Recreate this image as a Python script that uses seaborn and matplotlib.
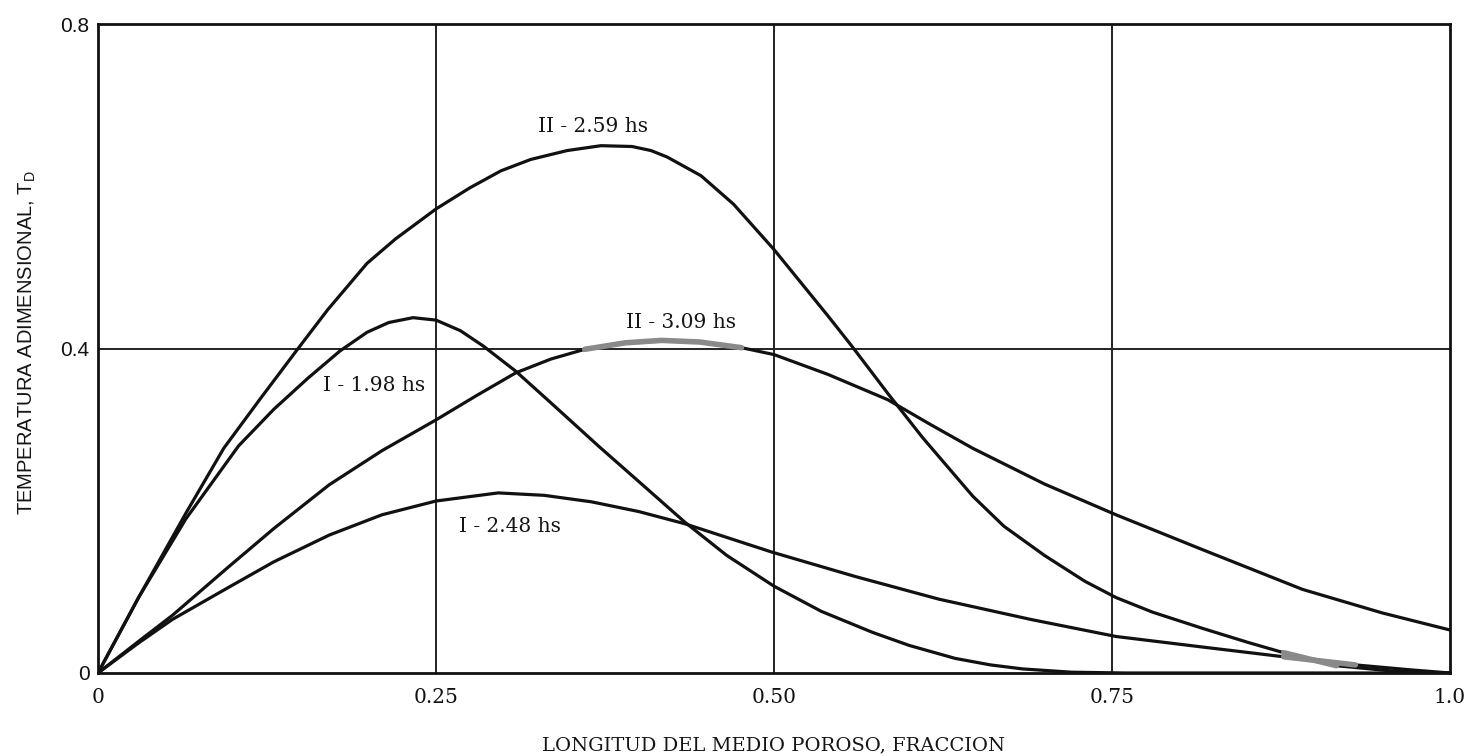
import numpy as np
import pandas as pd
import matplotlib
matplotlib.use("Agg")
import matplotlib.pyplot as plt
import seaborn as sns

# ---- data ----
x_259 = [0, 0.03, 0.065, 0.093, 0.12, 0.148, 0.17, 0.199, 0.22, 0.25, 0.275, 0.298, 0.32, 0.347, 0.372,
         0.395, 0.409, 0.421, 0.446, 0.47, 0.50, 0.52, 0.54, 0.558, 0.584, 0.61, 0.647, 0.67, 0.70, 0.73,
         0.753, 0.78, 0.817, 0.85, 0.877, 0.916, 0.96, 1.0]
y_259 = [0, 0.093, 0.197, 0.277, 0.338, 0.40, 0.448, 0.505, 0.535, 0.572, 0.598, 0.619, 0.633, 0.644, 0.650,
         0.649, 0.644, 0.636, 0.613, 0.578, 0.522, 0.481, 0.44, 0.402, 0.345, 0.29, 0.218, 0.181, 0.145, 0.113,
         0.093, 0.075, 0.055, 0.038, 0.025, 0.009, 0.002, 0]

x_198 = [0, 0.03, 0.065, 0.104, 0.13, 0.155, 0.179, 0.199, 0.215, 0.233, 0.25, 0.268, 0.285, 0.309, 0.335,
         0.37, 0.40, 0.434, 0.465, 0.50, 0.535, 0.573, 0.60, 0.634, 0.66, 0.684, 0.72, 0.76, 1.0]
y_198 = [0, 0.093, 0.19, 0.28, 0.325, 0.363, 0.397, 0.42, 0.432, 0.438, 0.435, 0.422, 0.403, 0.372, 0.333,
         0.28, 0.236, 0.186, 0.145, 0.107, 0.076, 0.050, 0.034, 0.018, 0.010, 0.005, 0.001, 0, 0]

x_309 = [0, 0.03, 0.055, 0.096, 0.13, 0.171, 0.21, 0.25, 0.28, 0.309, 0.335, 0.36, 0.39, 0.417, 0.445,
         0.476, 0.50, 0.54, 0.584, 0.615, 0.647, 0.70, 0.753, 0.817, 0.891, 0.95, 1.0]
y_309 = [0, 0.039, 0.071, 0.13, 0.178, 0.232, 0.274, 0.312, 0.342, 0.370, 0.387, 0.399, 0.407, 0.41, 0.408,
         0.401, 0.3925, 0.368, 0.337, 0.307, 0.277, 0.233, 0.195, 0.152, 0.103, 0.074, 0.053]

x_248 = [0, 0.03, 0.055, 0.096, 0.13, 0.171, 0.21, 0.25, 0.296, 0.33, 0.365, 0.40, 0.434, 0.4985,
         0.56, 0.622, 0.69, 0.753, 0.817, 0.877, 0.93, 0.97, 1.0]
y_248 = [0, 0.037, 0.066, 0.105, 0.137, 0.170, 0.195, 0.212, 0.222, 0.219, 0.211, 0.199, 0.184, 0.149,
         0.119, 0.091, 0.066, 0.045, 0.032, 0.020, 0.010, 0.004, 0.0]

labels = ["II - 2.59 hs", "I - 1.98 hs", "II - 3.09 hs", "I - 2.48 hs"]
label_pos = [(0.366, 0.674), (0.204, 0.355), (0.431, 0.432), (0.305, 0.180)]

x_ticks = [0, 0.25, 0.50, 0.75, 1.0]
x_ticklabels = ["0", "0.25", "0.50", "0.75", "1.0"]
y_ticks = [0, 0.4, 0.8]
y_ticklabels = ["0", "0.4", "0.8"]

series = [(x_259, y_259), (x_198, y_198), (x_309, y_309), (x_248, y_248)]

sns.set_theme(style="white")
plt.rcParams["font.family"] = ["DejaVu Serif"]

fig = plt.figure(figsize=(14.65, 7.56), dpi=100)
ax = fig.add_axes([98 / 1465, 1 - 673 / 756, (1450 - 98) / 1465, (673 - 24) / 756])

for (xs, ys), lab in zip(series, labels):
    df = pd.DataFrame({"x": xs, "y": ys})
    sns.lineplot(data=df, x="x", y="y", ax=ax, color="#111111", lw=2.3,
                 sort=False, estimator=None, zorder=3)

# greyish worn segments as in the scanned figure
df309 = pd.DataFrame({"x": x_309, "y": y_309})
seg = df309[(df309.x >= 0.36) & (df309.x <= 0.476)]
sns.lineplot(data=seg, x="x", y="y", ax=ax, color="#8a8a8a", lw=4.0, sort=False,
             estimator=None, zorder=4)
df248 = pd.DataFrame({"x": x_248, "y": y_248})
seg2 = df248[(df248.x >= 0.877) & (df248.x <= 0.93)]
sns.lineplot(data=seg2, x="x", y="y", ax=ax, color="#8a8a8a", lw=4.0, sort=False,
             estimator=None, zorder=4)
df259 = pd.DataFrame({"x": x_259, "y": y_259})
seg3 = df259[(df259.x >= 0.877) & (df259.x <= 0.916)]
sns.lineplot(data=seg3, x="x", y="y", ax=ax, color="#8a8a8a", lw=4.0, sort=False,
             estimator=None, zorder=4)

for lab, (lx, ly) in zip(labels, label_pos):
    ax.text(lx, ly, lab, ha="center", va="center", fontsize=14.5,
            fontfamily="DejaVu Serif", color="#151515", zorder=5)

ax.set_xlim(0, 1.0)
ax.set_ylim(0, 0.8)
ax.set_xticks(x_ticks)
ax.set_xticklabels(x_ticklabels, fontsize=14.5, fontfamily="DejaVu Serif")
ax.set_yticks(y_ticks)
ax.set_yticklabels(y_ticklabels)
for t in ax.get_yticklabels():
    t.set_fontfamily("Liberation Sans")
    t.set_fontsize(15)
ax.tick_params(axis="x", length=0, pad=11, colors="#111111")
ax.tick_params(axis="y", length=0, pad=6, colors="#111111")

for xv in x_ticks[1:-1]:
    ax.axvline(xv, color="#222222", lw=1.4, zorder=1)
ax.axhline(0.4, color="#222222", lw=1.4, zorder=1)

for sp in ax.spines.values():
    sp.set_visible(True)
    sp.set_color("#111111")
    sp.set_linewidth(2.0)

ax.set_xlabel("LONGITUD DEL MEDIO POROSO, FRACCION", fontsize=14,
              fontfamily="DejaVu Serif", color="#151515")
ax.xaxis.label.set_va("center")
ax.xaxis.set_label_coords(0.5, (673 - 745) / 649)

ax.set_ylabel("TEMPERATURA ADIMENSIONAL, T$_\\mathregular{D}$", fontsize=14.5,
              fontfamily="Liberation Sans", color="#151515")
ax.yaxis.label.set_va("center")
ax.yaxis.set_label_coords((27 - 98) / 1352, (673 - 343) / 649)

fig.savefig("out.png", dpi=100, facecolor="white")
